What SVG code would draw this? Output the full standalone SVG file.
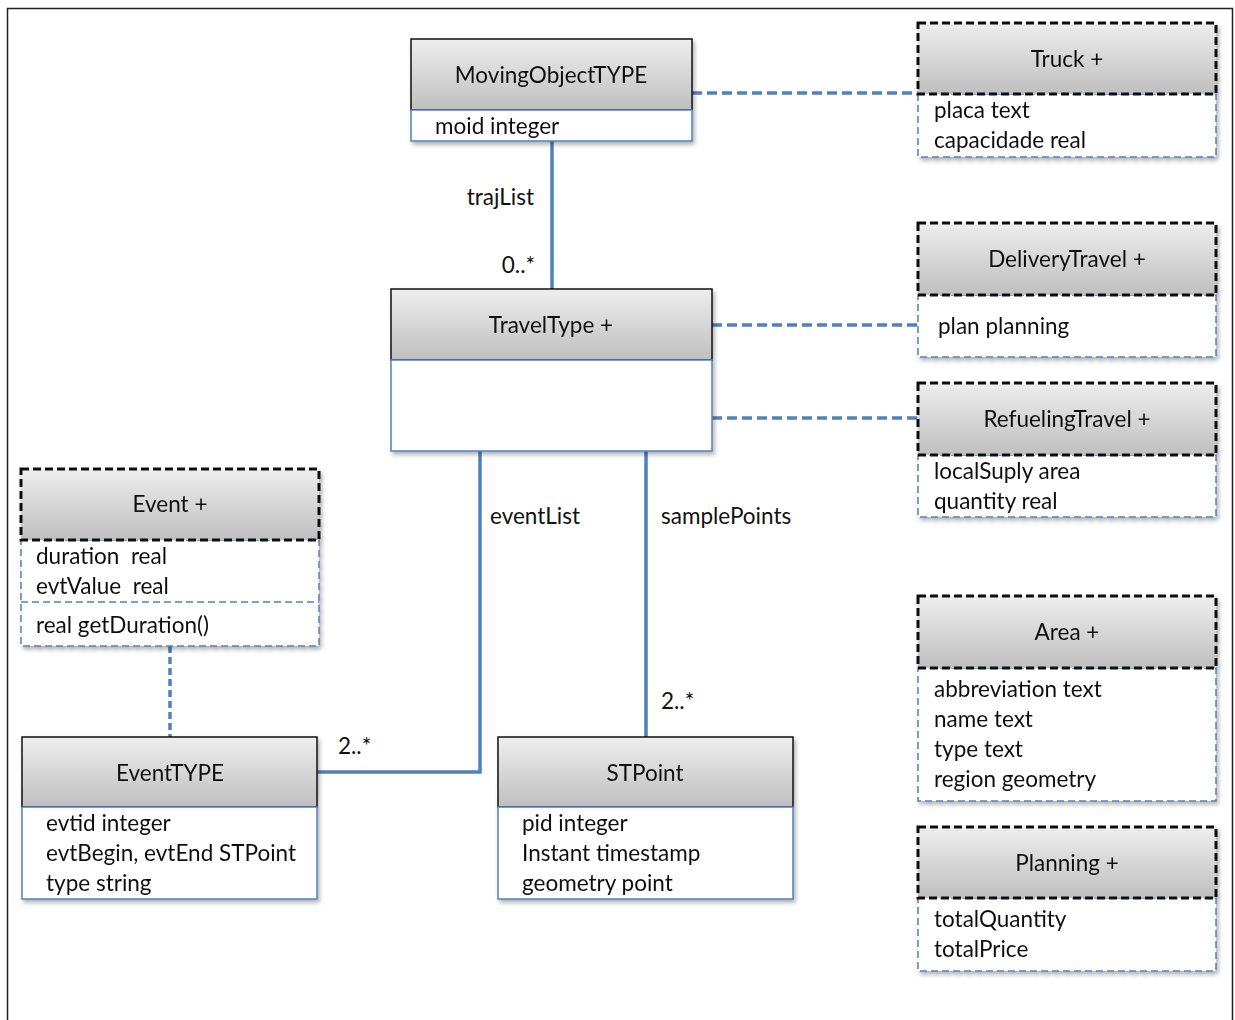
<svg xmlns="http://www.w3.org/2000/svg" width="1235" height="1020" viewBox="0 0 1235 1020">
  <defs>
    <linearGradient id="hdr" x1="0" y1="0" x2="0" y2="1">
      <stop offset="0" stop-color="#eeeeee"/>
      <stop offset="1" stop-color="#bfbfbf"/>
    </linearGradient>
    <filter id="shadow" x="-5%" y="-5%" width="112%" height="120%">
      <feDropShadow dx="2" dy="3" stdDeviation="2" flood-color="#000" flood-opacity="0.3"/>
    </filter>
  </defs>
  <style>
    text { font-family: Lato, "Liberation Sans", sans-serif; font-size: 22.5px; fill: #111; }
    .title { text-anchor: middle; }
    .hdr { fill: url(#hdr); stroke: #111; stroke-width: 1.5; }
    .hdr-d { fill: url(#hdr); stroke: #111; stroke-width: 3; stroke-dasharray: 8 4; }
    .body { fill: #fff; stroke: #4f81bd; stroke-width: 1.5; }
    .body-d { fill: #fff; stroke: #4f81bd; stroke-width: 1.5; stroke-dasharray: 7 4; }
    .link { fill: none; stroke: #4f81bd; stroke-width: 3.5; }
    .link-d { fill: none; stroke: #4f81bd; stroke-width: 3.5; stroke-dasharray: 10 5; }
    .link-dv { fill: none; stroke: #4f81bd; stroke-width: 3.5; stroke-dasharray: 7 4; }
  </style>

  <!-- outer frame -->
  <path d="M7.5 1020 V8.5 H1232.5 V1020" fill="none" stroke="#222" stroke-width="1.5"/>

  <!-- connectors -->
  <g id="connectors">
    <line class="link" x1="552" y1="141" x2="552" y2="289"/>
    <polyline class="link" points="480,451 480,772 318,772"/>
    <line class="link" x1="646" y1="451" x2="646" y2="737"/>
    <line class="link-d" x1="692" y1="93" x2="918" y2="93"/>
    <line class="link-d" x1="712" y1="325" x2="918" y2="325"/>
    <line class="link-d" x1="712" y1="418" x2="918" y2="418"/>
    <line class="link-dv" x1="170" y1="646" x2="170" y2="737"/>
    <text x="534" y="205" text-anchor="end">trajList</text>
    <text x="535" y="273" text-anchor="end">0..*</text>
    <text x="490" y="524">eventList</text>
    <text x="661" y="524">samplePoints</text>
    <text x="661" y="709">2..*</text>
    <text x="338" y="754">2..*</text>
  </g>

  <g id="MovingObjectTYPE" filter="url(#shadow)">
    <rect class="hdr" x="411" y="39" width="281" height="71"/>
    <rect class="body" x="411" y="110" width="281" height="31"/>
    <text class="title" x="551" y="83">MovingObjectTYPE</text>
    <text x="435" y="134">moid integer</text>
  </g>

  <g id="Truck" filter="url(#shadow)">
    <rect class="body-d" x="918" y="94" width="298" height="63"/>
    <rect class="hdr-d" x="918" y="23" width="298" height="71"/>
    <text class="title" x="1067" y="67">Truck +</text>
    <text x="934" y="118">placa text</text>
    <text x="934" y="148">capacidade real</text>
  </g>

  <g id="TravelType" filter="url(#shadow)">
    <rect class="hdr" x="391" y="289" width="321" height="71"/>
    <rect class="body" x="391" y="360" width="321" height="91"/>
    <text class="title" x="551" y="333">TravelType +</text>
  </g>

  <g id="DeliveryTravel" filter="url(#shadow)">
    <rect class="body-d" x="918" y="295" width="298" height="62"/>
    <rect class="hdr-d" x="918" y="223" width="298" height="72"/>
    <text class="title" x="1067" y="267">DeliveryTravel +</text>
    <text x="938" y="334">plan planning</text>
  </g>

  <g id="RefuelingTravel" filter="url(#shadow)">
    <rect class="body-d" x="918" y="455" width="298" height="62"/>
    <rect class="hdr-d" x="918" y="383" width="298" height="72"/>
    <text class="title" x="1067" y="427">RefuelingTravel +</text>
    <text x="934" y="479">localSuply area</text>
    <text x="934" y="509">quantity real</text>
  </g>

  <g id="Event" filter="url(#shadow)">
    <rect class="body-d" x="21" y="540" width="298" height="106"/>
    <line class="body-d" x1="21" y1="602" x2="319" y2="602"/>
    <rect class="hdr-d" x="21" y="469" width="298" height="71"/>
    <text class="title" x="170" y="512">Event +</text>
    <text x="36" y="564" xml:space="preserve">duration  real</text>
    <text x="36" y="594" xml:space="preserve">evtValue  real</text>
    <text x="36" y="633">real getDuration()</text>
  </g>

  <g id="EventTYPE" filter="url(#shadow)">
    <rect class="hdr" x="22" y="737" width="295" height="70"/>
    <rect class="body" x="22" y="807" width="295" height="92"/>
    <text class="title" x="170" y="781">EventTYPE</text>
    <text x="46" y="831">evtid integer</text>
    <text x="46" y="861">evtBegin, evtEnd STPoint</text>
    <text x="46" y="891">type string</text>
  </g>

  <g id="STPoint" filter="url(#shadow)">
    <rect class="hdr" x="498" y="737" width="295" height="70"/>
    <rect class="body" x="498" y="807" width="295" height="92"/>
    <text class="title" x="645" y="781">STPoint</text>
    <text x="522" y="831">pid integer</text>
    <text x="522" y="861">Instant timestamp</text>
    <text x="522" y="891">geometry point</text>
  </g>

  <g id="Area" filter="url(#shadow)">
    <rect class="body-d" x="918" y="668" width="298" height="133"/>
    <rect class="hdr-d" x="918" y="596" width="298" height="72"/>
    <text class="title" x="1067" y="640">Area +</text>
    <text x="934" y="697">abbreviation text</text>
    <text x="934" y="727">name text</text>
    <text x="934" y="757">type text</text>
    <text x="934" y="787">region geometry</text>
  </g>

  <g id="Planning" filter="url(#shadow)">
    <rect class="body-d" x="918" y="898" width="298" height="73"/>
    <rect class="hdr-d" x="918" y="827" width="298" height="71"/>
    <text class="title" x="1067" y="871">Planning +</text>
    <text x="934" y="927">totalQuantity</text>
    <text x="934" y="957">totalPrice</text>
  </g>
</svg>
